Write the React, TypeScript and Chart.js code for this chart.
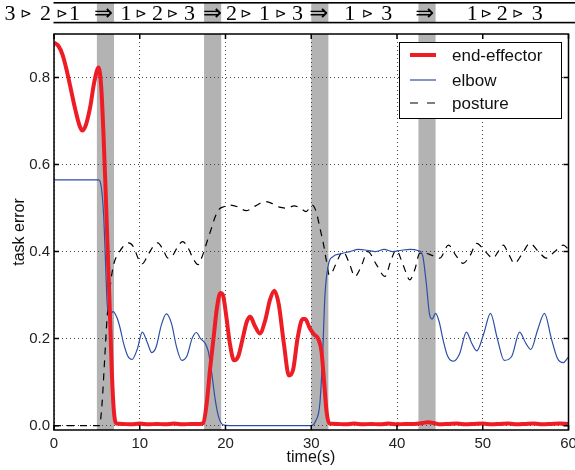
import React, { useEffect, useRef } from "react";
import { Chart, registerables } from "chart.js";
Chart.register(...registerables);

// ---- data ----
const eeT = [0, 0.5, 1, 1.5, 2, 2.5, 3, 3.3, 3.7, 4.2, 4.7, 5.2, 5.5, 5.75, 6, 6.25, 6.5, 6.75, 7, 7.3, 8, 9, 10, 11, 12, 13, 14, 15, 16, 17, 17.4, 17.8, 18.2, 18.6, 19, 19.4, 19.7, 20.1, 20.5, 21, 21.5, 22, 22.5, 22.9, 23.4, 24, 24.6, 25.2, 25.7, 26.2, 26.8, 27.4, 27.9, 28.4, 29, 29.3, 29.8, 30.3, 30.8, 31.2, 31.5, 31.8, 32.1, 33, 34, 35, 36, 37, 38, 39, 40, 41, 42, 43, 43.6, 44.5, 45, 46, 47, 48, 49, 50, 51, 52, 53, 54, 55, 56, 57, 58, 59, 60];
const eeY = [0.88, 0.873, 0.852, 0.815, 0.77, 0.725, 0.688, 0.678, 0.69, 0.73, 0.79, 0.823, 0.78, 0.68, 0.55, 0.41, 0.27, 0.12, 0.03, 0.005, 0.004, 0.003, 0.005, 0.003, 0.004, 0.003, 0.005, 0.003, 0.004, 0.004, 0.006, 0.05, 0.13, 0.2, 0.27, 0.305, 0.3, 0.25, 0.19, 0.15, 0.16, 0.2, 0.24, 0.25, 0.23, 0.212, 0.24, 0.29, 0.31, 0.28, 0.19, 0.115, 0.13, 0.2, 0.245, 0.245, 0.225, 0.21, 0.2, 0.17, 0.1, 0.03, 0.005, 0.004, 0.003, 0.005, 0.003, 0.004, 0.003, 0.005, 0.003, 0.004, 0.004, 0.006, 0.008, 0.005, 0.003, 0.004, 0.005, 0.003, 0.004, 0.005, 0.003, 0.004, 0.005, 0.003, 0.004, 0.005, 0.003, 0.004, 0.005, 0.004];

const elbowT = [0, 5.2, 5.4, 5.6, 5.8, 6.0, 6.2, 6.4, 6.6, 6.9, 7.3, 7.7, 8.1, 8.6, 9.1, 9.7, 10.3, 10.9, 11.4, 11.9, 12.5, 13.1, 13.7, 14.3, 14.9, 15.5, 16.1, 16.6, 17.1, 17.6, 18.0, 18.4, 18.8, 19.2, 19.7, 20.5, 25, 30, 30.5, 31, 31.3, 31.6, 32, 32.5, 33.5, 34.5, 35.5, 36.5, 37.5, 38.5, 39.5, 40.5, 41.5, 42.5, 43, 43.4, 43.8, 44.1, 44.5, 44.9, 45.4, 45.9, 46.6, 47.3, 48.1, 48.7, 49.3, 50.1, 50.9, 51.7, 52.5, 53.4, 54.3, 55.0, 55.6, 56.4, 57.2, 58.0, 58.7, 59.4, 60];
const elbowY = [0.565, 0.565, 0.56, 0.535, 0.48, 0.38, 0.28, 0.258, 0.258, 0.262, 0.25, 0.225, 0.19, 0.16, 0.152, 0.175, 0.215, 0.19, 0.168, 0.18, 0.23, 0.257, 0.235, 0.18, 0.15, 0.16, 0.2, 0.214, 0.2, 0.19, 0.17, 0.12, 0.06, 0.02, 0.002, 0, 0, 0, 0.01, 0.05, 0.15, 0.3, 0.37, 0.388, 0.395, 0.4, 0.405, 0.403, 0.4, 0.405, 0.4, 0.403, 0.405, 0.402, 0.39, 0.33, 0.255, 0.245, 0.258, 0.24, 0.195, 0.16, 0.148, 0.165, 0.215, 0.19, 0.172, 0.21, 0.258, 0.2, 0.15, 0.16, 0.215, 0.19, 0.175, 0.22, 0.258, 0.2, 0.155, 0.145, 0.158];

const postureT = [0, 5.3, 5.6, 5.9, 6.2, 6.5, 6.8, 7.1, 7.5, 8.0, 8.7, 9.3, 9.8, 10.3, 10.9, 11.5, 12.1, 12.7, 13.3, 13.8, 14.4, 15.0, 15.6, 16.2, 16.8, 17.3, 17.8, 18.3, 18.8, 19.3, 19.8, 20.5, 21.4, 22.4, 23.5, 24.6, 25.5, 26.3, 27.2, 28.0, 28.7, 29.4, 30.1, 30.6, 31.0, 31.4, 31.8, 32.1, 32.5, 32.9, 33.7, 34.4, 35.1, 35.8, 36.6, 37.6, 38.6, 39.3, 39.9, 40.7, 41.5, 42.1, 42.65, 43.3, 44.0, 45.0, 46.0, 46.9, 47.7, 48.5, 49.3, 50.3, 51.2, 51.8, 52.4, 53.0, 53.7, 54.6, 55.5, 56.5, 57.4, 58.4, 59.4, 60];
const postureY = [0, 0, 0.05, 0.15, 0.25, 0.31, 0.355, 0.38, 0.395, 0.41, 0.42, 0.41, 0.385, 0.372, 0.39, 0.41, 0.42, 0.405, 0.385, 0.39, 0.41, 0.423, 0.41, 0.385, 0.37, 0.39, 0.42, 0.45, 0.48, 0.498, 0.503, 0.507, 0.503, 0.494, 0.505, 0.515, 0.51, 0.502, 0.5, 0.505, 0.5, 0.492, 0.507, 0.49, 0.455, 0.42, 0.375, 0.346, 0.355, 0.373, 0.4, 0.375, 0.343, 0.365, 0.4, 0.37, 0.343, 0.38, 0.404, 0.37, 0.335, 0.36, 0.396, 0.396, 0.392, 0.385, 0.415, 0.39, 0.373, 0.39, 0.419, 0.4, 0.385, 0.4, 0.415, 0.395, 0.373, 0.395, 0.419, 0.4, 0.385, 0.4, 0.415, 0.405];

const seriesNames = ["end-effector", "elbow", "posture"];
const bands = [[5, 7], [17.5, 19.5], [30, 32], [42.5, 44.5]];
const xTicks = [0, 10, 20, 30, 40, 50, 60];
const yTicks = [0, 0.2, 0.4, 0.6, 0.8];
const xTitle = "time(s)";
const yTitle = "task error";
// header tokens: [text, position on time axis]
const headerTokens: [string, number][] = [
  ["3", -5.13], ["⊳", -3.15], ["2", -0.99], ["⊳", 1.05], ["1", 2.39], ["⇒", 5.89],
  ["1", 8.4], ["⊳", 10.27], ["2", 12.08], ["⊳", 13.94], ["3", 15.81], ["⇒", 18.61],
  ["2", 20.71], ["⊳", 22.52], ["1", 24.56], ["⊳", 26.55], ["3", 28.41], ["⇒", 30.98],
  ["1", 34.48], ["⊳", 36.69], ["3", 38.8], ["⇒", 43.35],
  ["1", 48.77], ["⊳", 50.52], ["2", 52.27], ["⊳", 54.2], ["3", 56.36],
];

const toPts = (t: number[], y: number[]) => t.map((x, i) => ({ x, y: y[i] }));

// draw a symbol scaled to a target glyph width, vertically centred on cy
function drawSymbol(ctx: CanvasRenderingContext2D, txt: string, cx: number, cy: number, targetW: number, family: string) {
  ctx.font = `20px ${family}`;
  ctx.textBaseline = "alphabetic";
  ctx.textAlign = "left";
  let m = ctx.measureText(txt);
  let w = (m.actualBoundingBoxRight || 0) + (m.actualBoundingBoxLeft || 0);
  if (!w) w = m.width;
  const size = (20 * targetW) / w;
  ctx.font = `${size}px ${family}`;
  m = ctx.measureText(txt);
  const asc = m.actualBoundingBoxAscent || size * 0.6;
  const desc = m.actualBoundingBoxDescent || 0;
  const left = m.actualBoundingBoxLeft || 0;
  const right = m.actualBoundingBoxRight || m.width;
  const baseY = cy + (asc - desc) / 2;
  const startX = cx - (right - left) / 2 + left;
  ctx.fillText(txt, startX, baseY);
}

export default function App() {
  const ref = useRef<HTMLCanvasElement>(null);
  useEffect(() => {
    document.body.style.margin = "0";
    const canvas = ref.current!;
    const deco = {
      id: "deco",
      beforeDraw(chart: any) {
        const { ctx, chartArea: ca } = chart;
        const x = chart.scales.x;
        ctx.save();
        ctx.fillStyle = "#b3b3b3";
        for (const [a, b] of bands) {
          const pa = x.getPixelForValue(a);
          const pb = x.getPixelForValue(b);
          ctx.fillRect(pa, ca.top, pb - pa, ca.bottom - ca.top);
          ctx.fillRect(pa, 3, pb - pa, 19.5);
        }
        ctx.restore();
      },
      afterDatasetsDraw(chart: any) {
        const { ctx, chartArea: ca } = chart;
        const x = chart.scales.x;
        const y = chart.scales.y;
        ctx.save();
        ctx.strokeStyle = "#000";
        ctx.lineWidth = 1.5;
        ctx.setLineDash([]);
        ctx.strokeRect(ca.left, ca.top, ca.right - ca.left, ca.bottom - ca.top);
        ctx.beginPath();
        for (const t of xTicks) {
          const p = x.getPixelForValue(t);
          ctx.moveTo(p, ca.top);
          ctx.lineTo(p, ca.top + 5);
          ctx.moveTo(p, ca.bottom);
          ctx.lineTo(p, ca.bottom - 5);
        }
        for (const v of yTicks) {
          const p = y.getPixelForValue(v);
          ctx.moveTo(ca.left, p);
          ctx.lineTo(ca.left + 5, p);
          ctx.moveTo(ca.right, p);
          ctx.lineTo(ca.right - 5, p);
        }
        ctx.stroke();

        // legend
        ctx.fillStyle = "#fff";
        ctx.fillRect(399.5, 42.5, 162, 76);
        ctx.lineWidth = 1;
        ctx.strokeStyle = "#000";
        ctx.strokeRect(399.5, 42.5, 162, 76);
        const rows = [55, 80, 103];
        chart.data.datasets.forEach((ds: any, i: number) => {
          ctx.save();
          ctx.strokeStyle = ds.borderColor;
          ctx.lineWidth = ds.borderWidth;
          ctx.setLineDash(ds.borderDash ? [8, 9] : []);
          ctx.beginPath();
          ctx.moveTo(410, rows[i]);
          ctx.lineTo(436, rows[i]);
          ctx.stroke();
          ctx.restore();
          ctx.fillStyle = "#111";
          ctx.font = "17px 'Liberation Sans', Arial, sans-serif";
          ctx.textAlign = "left";
          ctx.textBaseline = "middle";
          ctx.fillText(ds.label, 452, rows[i] + 1);
        });
        ctx.restore();
      },
      afterDraw(chart: any) {
        const { ctx } = chart;
        const x = chart.scales.x;
        ctx.save();
        ctx.fillStyle = "#000";
        ctx.fillRect(53.5, 2, 575 - 53.5, 1.6);
        ctx.fillRect(53.5, 21.8, 575 - 53.5, 1.6);
        for (const [txt, t] of headerTokens) {
          const p = x.getPixelForValue(t);
          if (txt === "⊳") {
            drawSymbol(ctx, txt, p, 13.5, 9, "'DejaVu Sans'");
          } else if (txt === "⇒") {
            drawSymbol(ctx, txt, p, 12.5, 17, "'DejaVu Sans'");
          } else {
            ctx.font = "22px 'Liberation Serif', serif";
            ctx.textAlign = "center";
            ctx.textBaseline = "alphabetic";
            ctx.fillText(txt, p, 20);
          }
        }
        // axis titles
        ctx.fillStyle = "#111";
        ctx.font = "16px 'Liberation Sans', Arial, sans-serif";
        ctx.textAlign = "center";
        ctx.textBaseline = "middle";
        ctx.fillText(xTitle, 311, 458);
        ctx.translate(20, 232);
        ctx.rotate(-Math.PI / 2);
        ctx.fillText(yTitle, 0, 0);
        ctx.restore();
      },
    };

    const tickFont = { family: "'Liberation Sans', Arial, sans-serif", size: 15 };
    const chart = new Chart(canvas, {
      type: "line",
      data: {
        datasets: [
          { label: seriesNames[0], data: toPts(eeT, eeY), borderColor: "#ee1c25", borderWidth: 4, pointRadius: 0, cubicInterpolationMode: "monotone", fill: false },
          { label: seriesNames[1], data: toPts(elbowT, elbowY), borderColor: "#2b4fa6", borderWidth: 1.2, pointRadius: 0, cubicInterpolationMode: "monotone", fill: false },
          { label: seriesNames[2], data: toPts(postureT, postureY), borderColor: "#000", borderWidth: 1.2, borderDash: [7, 6], pointRadius: 0, cubicInterpolationMode: "monotone", fill: false },
        ],
      } as any,
      options: {
        responsive: false,
        animation: false,
        layout: { padding: { top: 34, right: 6.5, left: 0, bottom: 0 } },
        plugins: { legend: { display: false }, tooltip: { enabled: false } },
        scales: {
          x: {
            type: "linear",
            min: 0,
            max: 60,
            afterBuildTicks: (s: any) => { s.ticks = xTicks.map((v) => ({ value: v })); },
            ticks: { font: tickFont, color: "#222", padding: 5, maxRotation: 0, autoSkip: false },
            grid: { color: "#444", lineWidth: 1, drawTicks: false },
            border: { display: false, dash: [1, 3] },
            afterFit: (s: any) => { s.height = 40; s.paddingLeft = 0; s.paddingRight = 0; },
          },
          y: {
            type: "linear",
            min: -0.01,
            max: 0.9,
            afterBuildTicks: (s: any) => { s.ticks = yTicks.map((v) => ({ value: v })); },
            ticks: { font: tickFont, color: "#222", padding: 4, callback: (v: any) => Number(v).toFixed(1) },
            grid: { color: "#444", lineWidth: 1, drawTicks: false },
            border: { display: false, dash: [1, 3] },
            afterFit: (s: any) => { s.width = 54; s.paddingTop = 0; s.paddingBottom = 0; },
          },
        },
      } as any,
      plugins: [deco],
    });
    return () => chart.destroy();
  }, []);
  return (
    <div style={{ width: 575, height: 470 }}>
      <canvas ref={ref} width={575} height={470} style={{ display: "block" }} />
    </div>
  );
}
